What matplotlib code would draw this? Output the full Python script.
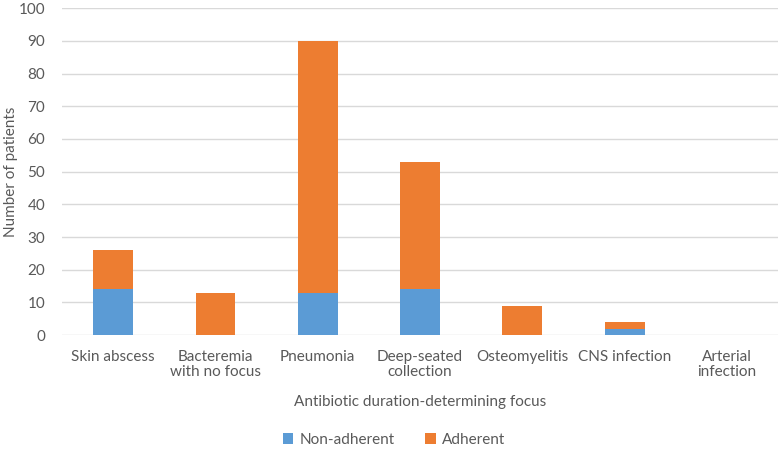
import numpy as np
import matplotlib
matplotlib.use('Agg')
from matplotlib import pyplot as plt

plt.rcParams['font.family'] = ['Lato', 'DejaVu Sans']

# 数据
categories = ['Skin abscess', 'Bacteremia\nwith no focus', 'Pneumonia', 'Deep-seated\ncollection',
              'Osteomyelitis', 'CNS infection', 'Arterial\ninfection']
non_adherent = [14, 0, 13, 14, 0, 2, 0]
adherent = [12, 13, 77, 39, 9, 2, 0]
y_ticks = list(range(0, 101, 10))

blue = '#5B9BD5'
orange = '#ED7D31'
text_color = '#595959'
fs = 11

fig = plt.figure(figsize=(7.8, 4.51), dpi=100)
ax = fig.add_axes([0.0795, 0.257, 0.918, 0.725])

x = np.arange(len(categories))
ax.bar(x, non_adherent, width=0.39, color=blue, label='Non-adherent', zorder=3)
ax.bar(x, adherent, width=0.39, bottom=non_adherent, color=orange, label='Adherent', zorder=3)

ax.set_xlim(-0.5, len(categories) - 0.5)
ax.set_ylim(0, 100)
ax.set_yticks(y_ticks)
ax.grid(axis='y', color='#D9D9D9', linewidth=1, zorder=0)
for s in ax.spines.values():
    s.set_visible(False)
ax.tick_params(axis='both', length=0, labelsize=fs, colors=text_color)
ax.tick_params(axis='y', pad=12)
ax.tick_params(axis='x', pad=11)
ax.set_xticks(x)
ax.set_xticklabels(categories, va='top', linespacing=1.1)

ax.set_ylabel('Number of patients', fontsize=fs, color=text_color)
ax.yaxis.set_label_coords(-0.062, 0.5)
ax.set_xlabel('Antibiotic duration-determining focus', fontsize=fs, color=text_color, labelpad=11)

leg = fig.legend(loc='center', bbox_to_anchor=(0.505, 0.024), ncol=2, frameon=False,
                 fontsize=fs, handlelength=0.7, handleheight=0.7, columnspacing=2.0,
                 handletextpad=0.4)
for t in leg.get_texts():
    t.set_color(text_color)

fig.savefig('out.png', dpi=100)
